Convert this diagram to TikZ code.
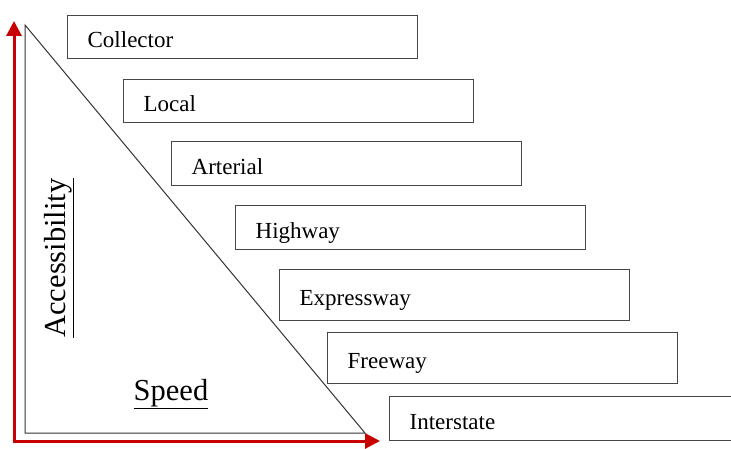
\documentclass[tikz,border=0pt]{standalone}
\usepackage{fontspec}
\setmainfont{Liberation Serif}
\usetikzlibrary{arrows.meta}
\definecolor{axisred}{RGB}{200,0,0}
\definecolor{boxgray}{RGB}{70,70,70}
\tikzset{
  roadbox/.style={draw=boxgray, line width=1.3pt, anchor=north west, minimum width=350pt,
    text width=310pt, inner xsep=20pt, align=left, text height=26pt, text depth=5pt,
    font=\fontsize{23}{28}\selectfont},
  redaxis/.style={axisred, line width=3pt, {Triangle[length=15pt,width=15pt]}-{Triangle[length=15pt,width=15pt]}},
  edge/.style={draw=black!80, line width=1pt},
  biglabel/.style={font=\fontsize{30.5}{36}\selectfont}
}

\begin{document}
\begin{tikzpicture}[x=1pt, y=-1pt]
\clip (0,0) rectangle (731,449);
% Corner points
    \coordinate (ytip) at (14,21);
    \coordinate (corner) at (14,441);
    \coordinate (xtip) at (380,441);
    \coordinate (apex) at (25,25);
    \coordinate (base) at (25,433);
    \coordinate (far) at (365,433);
% Axes and triangle
    \draw[redaxis] (ytip) -- (corner) -- (xtip);
    \draw[edge] (apex) -- (base) -- (far) -- cycle;
% Labels
    \node[biglabel, rotate=90] (access) at (59,258) {\underline{Accessibility}};
    \node[biglabel] (speed) at (171,394) {\underline{Speed}};
% Road classes
    \node[roadbox, minimum height=43pt] (collector) at (67,15) {Collector};
    \node[roadbox, minimum height=43pt] (local) at (123,79) {Local};
    \node[roadbox, minimum height=44pt] (arterial) at (171,141) {Arterial};
    \node[roadbox, minimum height=44pt] (highway) at (235,205) {Highway};
    \node[roadbox, minimum height=51pt] (expressway) at (279,269) {Expressway};
    \node[roadbox, minimum height=51pt] (freeway) at (327,332) {Freeway};
    \node[roadbox, minimum height=44pt] (interstate) at (389,396) {Interstate};
\end{tikzpicture}
\end{document}
